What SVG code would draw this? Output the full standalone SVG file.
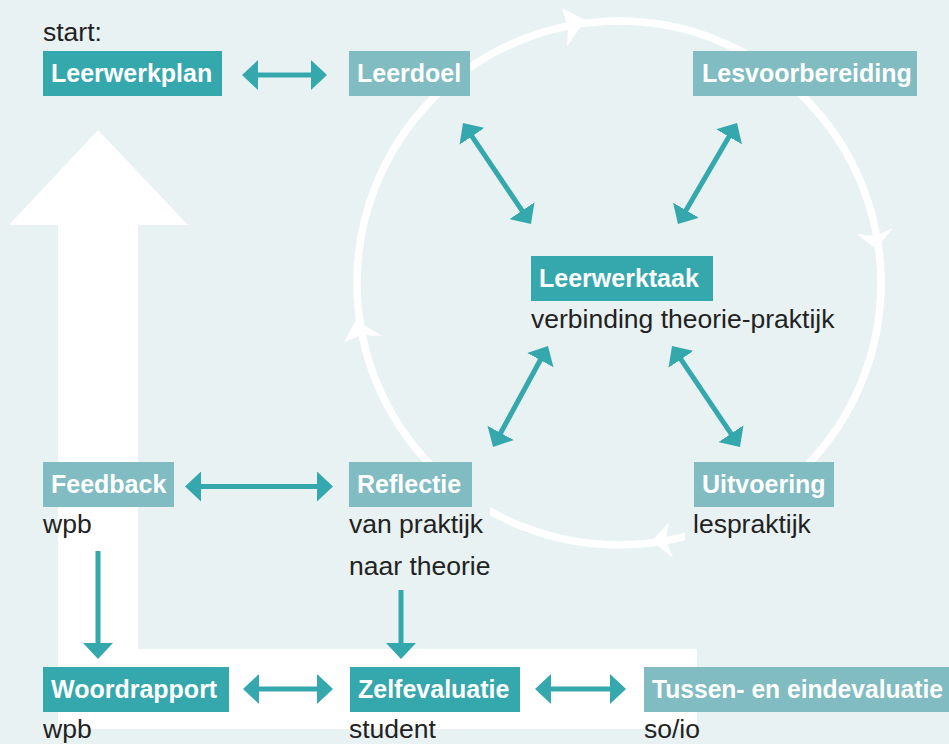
<svg xmlns="http://www.w3.org/2000/svg" width="949" height="744" viewBox="0 0 949 744">
<style>
.dark{fill:#35a8ae}
.light{fill:#80bcc1}
.lbl{font-family:"Liberation Sans",Arial,sans-serif;font-weight:bold;font-size:25px;fill:#fff}
.sub{font-family:"Liberation Sans",Arial,sans-serif;font-size:26.5px;fill:#222}
.conn{stroke:#35a8ae;stroke-width:5;fill:none;marker-end:url(#ah)}
.dbl{marker-start:url(#ah)}
.ko{fill:#e8f2f3}
.wh{fill:#fff}
</style>
<defs>
<marker id="ah" viewBox="0 0 16 30" refX="6" refY="15" markerWidth="16" markerHeight="30" markerUnits="userSpaceOnUse" orient="auto-start-reverse"><path d="M0,0 L16,15 L0,30 z" fill="#35a8ae"/></marker>
</defs>
<rect width="949" height="744" fill="#e8f2f3"/>
<g id="backdrop">
<polygon class="wh" points="98,130 188,225 138,225 138,649 697,649 697,729 58,729 58,225 9,225"/>
<circle cx="619" cy="283" r="262" fill="none" stroke="#fff" stroke-width="7.5"/>
<polygon class="wh" points="562,8 585,20 567,47 568,28"/>
<polygon class="wh" points="857,234 876,249 893,228 875,236"/>
<polygon class="wh" points="669,522 652,541 673,558 666,540"/>
<polygon class="wh" points="344,342 356,320 382,336 362,335"/>
<rect class="ko" x="349" y="495" width="141" height="50"/>
<rect class="ko" x="685" y="500" width="150" height="45"/>
</g>
<g id="connectors">
<line class="conn dbl" x1="252" y1="75" x2="317" y2="75"/>
<line class="conn dbl" x1="468.6" y1="131.3" x2="525.4" y2="215.7"/>
<line class="conn dbl" x1="732" y1="131.6" x2="683" y2="215.4"/>
<line class="conn dbl" x1="543.2" y1="354.8" x2="497.8" y2="438.2"/>
<line class="conn dbl" x1="677.6" y1="354.3" x2="734.4" y2="438.7"/>
<line class="conn dbl" x1="195" y1="486.5" x2="323" y2="486.5"/>
<line class="conn" x1="98" y1="551" x2="98" y2="649"/>
<line class="conn" x1="401" y1="590" x2="401" y2="649"/>
<line class="conn dbl" x1="253" y1="689" x2="323" y2="689"/>
<line class="conn dbl" x1="545" y1="689" x2="616" y2="689"/>
</g>
<g id="leerwerkplan">
<text class="sub" x="43" y="41">start:</text>
<rect class="dark" x="43" y="51" width="179" height="45"/>
<text class="lbl" x="51" y="82">Leerwerkplan</text>
</g>
<g id="leerdoel">
<rect class="light" x="349" y="51" width="121" height="45"/>
<text class="lbl" x="357" y="82">Leerdoel</text>
</g>
<g id="lesvoorbereiding">
<rect class="light" x="693" y="51" width="224" height="45"/>
<text class="lbl" x="702" y="82">Lesvoorbereiding</text>
</g>
<g id="leerwerktaak">
<rect class="dark" x="531" y="256" width="182" height="45"/>
<text class="lbl" x="539" y="287">Leerwerktaak</text>
<text class="sub" x="531" y="328">verbinding theorie-praktijk</text>
</g>
<g id="feedback">
<rect class="light" x="43" y="462" width="131" height="45"/>
<text class="lbl" x="51" y="493">Feedback</text>
<text class="sub" x="43" y="533">wpb</text>
</g>
<g id="reflectie">
<rect class="light" x="349" y="462" width="123" height="45"/>
<text class="lbl" x="357" y="493">Reflectie</text>
<text class="sub" x="349" y="533">van praktijk</text>
<text class="sub" x="349" y="575">naar theorie</text>
</g>
<g id="uitvoering">
<rect class="light" x="694" y="462" width="140" height="45"/>
<text class="lbl" x="702" y="493">Uitvoering</text>
<text class="sub" x="693" y="533">lespraktijk</text>
</g>
<g id="woordrapport">
<rect class="dark" x="43" y="667" width="186" height="45"/>
<text class="lbl" x="51" y="698">Woordrapport</text>
<text class="sub" x="43" y="738">wpb</text>
</g>
<g id="zelfevaluatie">
<rect class="dark" x="350" y="667" width="170" height="45"/>
<text class="lbl" x="358" y="698">Zelfevaluatie</text>
<text class="sub" x="349" y="738">student</text>
</g>
<g id="tussenevaluatie">
<rect class="light" x="644" y="667" width="305" height="45"/>
<text class="lbl" x="652" y="698" textLength="291" lengthAdjust="spacingAndGlyphs">Tussen- en eindevaluatie</text>
<text class="sub" x="644" y="738">so/io</text>
</g>
</svg>
